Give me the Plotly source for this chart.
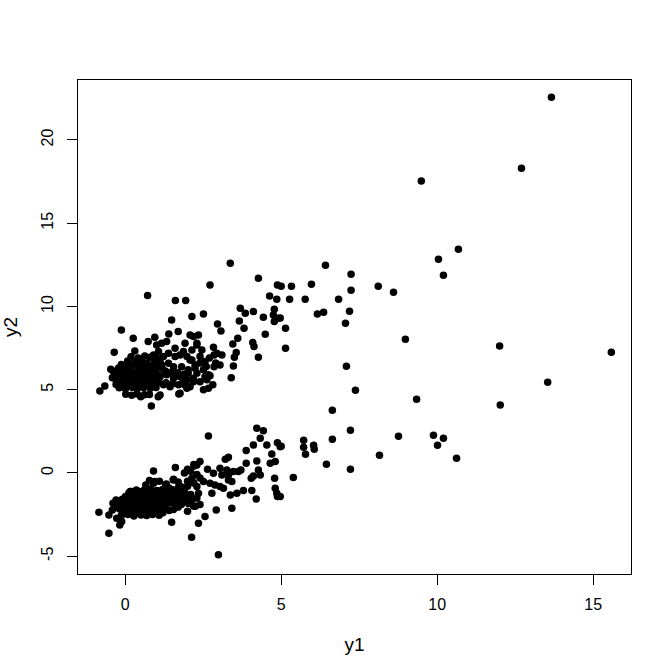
import plotly.graph_objects as go

# upper band (y2 roughly y1 + 5)
upper_y1 = [13.66, 12.70, 9.49, 10.68, 10.04, 10.20, 12.00, 15.58, 13.54, 12.02,
            6.42, 7.24, 5.97, 5.33, 5.00, 7.24, 8.11, 8.60, 5.27, 5.77, 6.84, 6.16, 6.36,
            7.19, 7.06, 4.97, 5.14, 8.98, 5.14, 7.09, 7.38, 9.34,
            3.37, 4.27, 2.72, 4.88, 4.63, 4.86, 3.69, 3.85, 4.11, 2.51, 2.14, 4.78, 4.75,
            4.91, 4.78, 4.43, 3.66, 2.96, 3.07, 3.81, 4.49, 3.61, 3.45, 4.09, 4.13, 3.56,
            3.50, 4.27, 3.47, 3.40, 2.83, 2.94, 2.85, 3.10, 2.85, 3.04, 2.72, 2.56, 2.81,
            0.72, 1.61, 1.94, 1.49, -0.12, 1.70, 1.40, 0.26, 0.95, 0.74, 0.31, -0.35,
            -0.46, -0.81, -0.65, 0.84, 0.50, 1.06, 1.72, 2.02,
            2.08, 2.35, 1.92, 2.30, 2.46, 1.60, 1.87, 1.01, 1.17, 1.33, 0.91, 1.07, 1.23,
            1.39, 1.60, 1.76, 1.98, 2.14, 2.40, 2.56, 1.17, 1.39, 1.55, 1.81, 2.02, 2.24,
            2.51, 2.67, 0.96, 1.12, 1.33, 1.55, 1.76, 1.98, 2.19, 2.40, 2.62, 1.23, 1.44,
            1.87, 2.02, 1.12, 1.76, 1.98, 2.51, 2.67,
            2.19, 2.30, 2.14, 2.08, 2.24, 2.30, 2.19, 2.08, 2.60, 2.40, 2.70, 2.90,
            0.08, 0.31, 0.52, 0.69, 0.93, 1.12,
            -0.21, 0.02, 0.19, 0.42, 0.61, 0.79, 1.01, 1.18,
            -0.31, -0.09, 0.12, 0.28, 0.51, 0.72, 0.88, 1.09,
            -0.28, -0.11, 0.09, 0.31, 0.49, 0.71, 0.92, 1.08,
            -0.19, 0.01, 0.22, 0.38, 0.59, 0.81, 0.99,
            0.02, 0.21, 0.39, 0.62, 0.78,
            0.19, 0.42, 0.63, 0.81, 1.02,
            -0.12, 0.11, 0.32, 0.49, 0.71, 0.89, 1.11,
            -0.39, -0.18, 0.01, 0.22, 0.41, 0.61, 0.79, 0.98,
            -0.41, -0.21, -0.02, 0.19, 0.39, 0.62, 0.81, 1.01,
            -0.29, -0.08, 0.11, 0.29, 0.52, 0.69, 0.88,
            1.29, 1.48, 1.68, 1.88, 1.31, 1.52, 1.71, 1.91]
upper_y2 = [22.56, 18.30, 17.54, 13.43, 12.83, 11.87, 7.63, 7.25, 5.45, 4.08,
            12.47, 11.93, 11.33, 11.21, 11.21, 10.97, 11.21, 10.85, 10.43, 10.43, 10.43,
            9.55, 9.65, 9.71, 8.99, 9.31, 8.69, 8.03, 7.49, 6.41, 4.97, 4.43,
            12.59, 11.69, 11.29, 11.29, 10.63, 10.43, 9.89, 9.59, 9.69, 9.55, 9.39, 9.83,
            9.49, 9.29, 9.09, 9.35, 9.13, 8.95, 8.53, 8.69, 8.33, 8.09, 7.75, 7.83, 7.59,
            7.23, 6.95, 6.95, 6.43, 5.72, 7.55, 7.19, 7.09, 7.09, 6.38, 6.49, 5.83, 5.78,
            5.29,
            10.65, 10.35, 10.35, 9.19, 8.59, 8.49, 8.35, 8.09, 8.15, 7.89, 7.33, 7.25,
            6.23, 4.92, 5.22, 4.02, 4.58, 4.58, 4.74, 5.99,
            8.29, 8.29, 7.79, 7.69, 7.39, 7.49, 7.29, 7.69, 7.79, 7.89, 7.09, 7.29, 6.99,
            7.19, 6.99, 7.09, 6.99, 6.79, 6.99, 6.69, 6.49, 6.59, 6.38, 6.38, 6.19, 6.29,
            6.19, 5.89, 5.99, 5.78, 5.89, 5.69, 5.78, 5.59, 5.69, 5.48, 5.59, 5.29, 5.18,
            5.48, 5.18, 4.68, 4.79, 5.09, 4.99, 5.09,
            8.19, 7.79, 7.39, 6.79, 6.49, 5.99, 5.48, 5.18, 6.40, 6.60, 6.90, 6.60,
            6.72, 6.65, 6.80, 6.61, 6.74, 6.69,
            6.31, 6.24, 6.38, 6.27, 6.35, 6.22, 6.33, 6.28,
            5.93, 5.86, 5.97, 5.84, 5.92, 5.88, 5.95, 5.87,
            5.52, 5.47, 5.56, 5.45, 5.53, 5.49, 5.51, 5.44,
            5.12, 5.06, 5.15, 5.04, 5.11, 5.08, 5.13,
            4.72, 4.66, 4.74, 4.69, 4.71,
            6.98, 6.91, 7.02, 6.95, 6.89,
            6.51, 6.46, 6.55, 6.48, 6.53, 6.44, 6.50,
            6.12, 6.08, 6.15, 6.06, 6.11, 6.09, 6.14, 6.05,
            5.72, 5.67, 5.75, 5.69, 5.74, 5.66, 5.71, 5.68,
            5.31, 5.27, 5.34, 5.25, 5.32, 5.29, 5.33,
            6.12, 6.05, 6.01, 5.92, 5.41, 5.35, 5.30, 5.28]

# lower band (y2 roughly y1 - 2)
lower_y1 = [9.88, 10.20, 10.01, 10.62,
            6.64, 7.22, 6.64, 8.76, 5.72, 6.04, 5.72, 6.06, 5.78, 5.00, 8.15, 6.45, 7.22, 5.39,
            0.91, 1.61, 2.00, 2.21, -0.84, -0.52, -0.52, -0.17, 1.49, 2.13, 0.20, 0.36,
            0.66, 0.95, 1.32, 1.54, 1.80,
            2.67, 4.22, 4.43, 4.33, 4.11, 4.54, 4.88, 4.97, 3.88, 4.70, 4.81, 4.65, 3.21,
            3.31, 3.88, 4.22, 2.40, 2.30, 4.27, 4.33, 2.64, 2.83, 3.04, 3.26, 3.10, 3.31,
            3.47, 3.63, 3.71, 4.04, 4.11, 4.79, 3.31, 3.42, 2.51, 2.72, 2.88, 3.04, 3.15,
            2.78, 3.37, 3.58, 3.79, 4.06, 4.20, 4.81, 4.86, 4.97, 4.88, 2.92, 3.42, 2.56,
            2.35, 2.99,
            1.55, 0.91, 1.30, 1.78, 2.14, 2.30, 2.35, 0.16, 0.43, -0.27, -0.11,
            1.90, 2.10, 2.30, 2.00, 2.20, 2.40, 1.70, 1.90, 2.10, 2.30, 2.40, 2.20, 1.60,
            1.80, 2.00, 1.40, 1.20, 2.20, 2.25, 2.15,
            0.61, 0.82, 1.02,
            0.01, 0.19, 0.41, 0.58, 0.79, 1.01, 1.22, 1.38, 1.61, 1.79, 2.02,
            -0.39, -0.21, 0.02, 0.18, 0.39, 0.61, 0.82, 0.99, 1.21, 1.42, 1.58, 1.81, 2.03,
            -0.41, -0.18, -0.02, 0.21, 0.38, 0.59, 0.81, 1.02, 1.19, 1.41,
            -0.12, 0.09, 0.28, 0.51, 0.69, 0.88, 1.09,
            0.12, 0.31, 0.52, 0.71, 0.91, 1.12, 1.29, 1.51, 1.69, 1.91,
            -0.29, -0.09, 0.11, 0.29, 0.49, 0.72, 0.91, 1.09, 1.31, 1.49, 1.71, 1.89, 2.11,
            -0.31, -0.12, 0.09, 0.31, 0.49, 0.69, 0.91, 1.11, 1.29,
            0.41, 0.62, 0.81, 1.01, 1.21,
            0.78, 1.10, 1.70, 2.00, 1.50, 1.70, 1.60, 1.85, 2.05, 1.90, 1.70, 1.55]
lower_y2 = [2.26, 2.08, 1.66, 0.88,
            3.77, 2.56, 2.02, 2.20, 1.96, 1.66, 1.54, 1.42, 1.12, 1.60, 1.06, 0.52, 0.22, -0.28,
            0.12, 0.32, 0.22, 0.42, -2.36, -2.52, -3.62, -3.12, -2.96, -3.86, -1.12, -1.02,
            -0.72, -0.52, -0.66, -0.42, -0.92,
            2.22, 2.68, 2.54, 2.08, 1.68, 1.68, 1.82, 1.58, 1.34, 1.14, 0.68, 0.58, 0.82,
            0.94, 0.58, 0.72, 0.68, 0.48, 0.18, -0.12, 0.22, -0.02, 0.28, 0.18, -0.12, -0.12,
            0.08, 0.08, 0.18, -0.32, -0.18, -0.32, -0.42, -0.52, -0.52, -0.62, -0.72, -0.82,
            -0.92, -1.22, -1.32, -1.22, -1.06, -1.06, -1.56, -0.92, -1.22, -1.42, -1.42,
            -2.22, -2.12, -2.62, -3.02, -4.92,
            -0.38, -0.62, -0.72, -0.82, -0.32, -0.82, -1.22, -1.12, -1.12, -2.72, -2.92,
            0.00, 0.10, -0.10, -0.50, -0.60, -0.30, -1.20, -1.00, -1.30, -1.50, -1.90,
            -2.00, -1.60, -1.90, -2.30, -0.90, -1.00, 0.50, -2.00, -1.60,
            -1.02, -0.96, -1.05,
            -1.42, -1.36, -1.45, -1.38, -1.44, -1.35, -1.41, -1.37, -1.46, -1.39, -1.43,
            -1.82, -1.77, -1.85, -1.79, -1.84, -1.76, -1.83, -1.78, -1.86, -1.80, -1.81,
            -1.75, -1.84,
            -2.22, -2.17, -2.25, -2.19, -2.24, -2.16, -2.23, -2.18, -2.21, -2.26,
            -2.55, -2.49, -2.58, -2.52, -2.56, -2.50, -2.54,
            -1.21, -1.17, -1.24, -1.19, -1.22, -1.16, -1.23, -1.18, -1.25, -1.20,
            -1.62, -1.58, -1.65, -1.59, -1.63, -1.57, -1.64, -1.60, -1.61, -1.66, -1.59,
            -1.63, -1.58,
            -2.01, -1.97, -2.04, -1.99, -2.03, -1.96, -2.02, -1.98, -2.05,
            -2.38, -2.35, -2.41, -2.36, -2.39,
            -0.45, -0.50, -0.55, -0.80, -1.00, -0.90, -1.30, -1.20, -1.55, -1.70, -2.05, -2.20]

x_ticks = [0, 5, 10, 15]
y_ticks = [-5, 0, 5, 10, 15, 20]
y_tick_text = ["-5", "0", "5", "10", "15", "20"]

fig = go.Figure()
fig.add_trace(go.Scatter(
    x=upper_y1 + lower_y1,
    y=upper_y2 + lower_y2,
    mode="markers",
    marker=dict(color="black", size=7.5, line=dict(width=0)),
    showlegend=False,
))

axis_style = dict(
    showgrid=False, zeroline=False, automargin=False,
    showline=True, mirror=True, linecolor="black", linewidth=1,
    ticks="outside", ticklen=9.6, tickwidth=1, tickcolor="black",
    tickfont=dict(size=16, color="black"),
)

fig.update_layout(
    width=672, height=672,
    margin=dict(l=78, r=41, t=80, b=98),
    paper_bgcolor="white", plot_bgcolor="white",
    font=dict(family="Liberation Sans, Arial, sans-serif", size=16, color="black"),
    xaxis=dict(range=[-1.51, 16.21], tickvals=x_ticks,
               title=dict(text="y1", standoff=25), ticklabelstandoff=6, **axis_style),
    yaxis=dict(range=[-6.07, 23.6], tickvals=y_ticks, ticktext=y_tick_text,
               tickangle=-90, title=dict(text="y2", standoff=20),
               ticklabelstandoff=8, **axis_style),
)

fig.write_html("out.html", config={"displayModeBar": False},
               post_script="document.body.style.margin='0';")
